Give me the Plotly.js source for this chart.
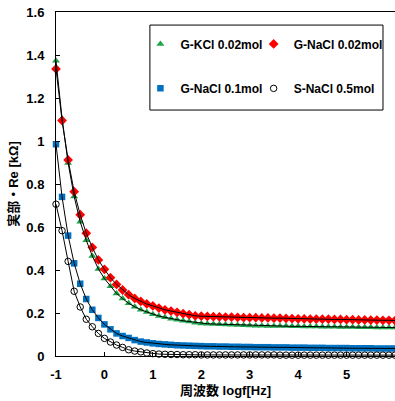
<!DOCTYPE html>
<html>
<head>
<meta charset="utf-8">
<script src="https://cdn.plot.ly/plotly-3.0.1.min.js"></script>
<style>html,body{margin:0;padding:0;background:#fff;}#chart{width:395px;height:401px;}</style>
</head>
<body>
<div id="chart"></div>
<script>
// log10 of frequency [Hz]
const logf = [-1, -0.875, -0.75, -0.625, -0.5, -0.375, -0.25, -0.125,
  0, 0.125, 0.25, 0.375, 0.5, 0.625, 0.75, 0.875,
  1, 1.125, 1.25, 1.375, 1.5, 1.625, 1.75, 1.875,
  2, 2.125, 2.25, 2.375, 2.5, 2.625, 2.75, 2.875,
  3, 3.125, 3.25, 3.375, 3.5, 3.625, 3.75, 3.875,
  4, 4.125, 4.25, 4.375, 4.5, 4.625, 4.75, 4.875,
  5, 5.125, 5.25, 5.375, 5.5, 5.625, 5.75, 5.875, 6];

const gKCl002 = [1.373, 1.105, 0.898, 0.742, 0.624, 0.538, 0.465, 0.405,
  0.360, 0.324, 0.291, 0.267, 0.245, 0.229, 0.215, 0.205,
  0.194, 0.186, 0.180, 0.173, 0.169, 0.164, 0.160, 0.155,
  0.151, 0.150, 0.149, 0.148, 0.146, 0.145, 0.144, 0.143,
  0.142, 0.141, 0.141, 0.140, 0.140, 0.139, 0.139, 0.138,
  0.138, 0.137, 0.137, 0.137, 0.136, 0.136, 0.136, 0.135,
  0.135, 0.135, 0.134, 0.134, 0.134, 0.133, 0.133, 0.133, 0.132];

const gNaCl002 = [1.335, 1.095, 0.912, 0.764, 0.657, 0.571, 0.505, 0.447,
  0.403, 0.364, 0.333, 0.307, 0.285, 0.268, 0.254, 0.242,
  0.233, 0.223, 0.215, 0.209, 0.203, 0.197, 0.192, 0.187,
  0.185, 0.184, 0.183, 0.182, 0.181, 0.181, 0.180, 0.179,
  0.178, 0.178, 0.177, 0.177, 0.176, 0.176, 0.175, 0.174,
  0.173, 0.173, 0.172, 0.172, 0.171, 0.171, 0.170, 0.170,
  0.169, 0.169, 0.168, 0.168, 0.167, 0.167, 0.166, 0.166, 0.165];

const gNaCl01 = [0.985, 0.740, 0.560, 0.431, 0.336, 0.265, 0.215, 0.177,
  0.147, 0.124, 0.105, 0.093, 0.084, 0.074, 0.067, 0.063,
  0.059, 0.056, 0.054, 0.052, 0.050, 0.049, 0.048, 0.047,
  0.046, 0.045, 0.045, 0.044, 0.044, 0.043, 0.043, 0.042,
  0.042, 0.041, 0.041, 0.041, 0.040, 0.040, 0.040, 0.039,
  0.039, 0.039, 0.038, 0.038, 0.038, 0.037, 0.037, 0.037,
  0.037, 0.036, 0.036, 0.036, 0.036, 0.035, 0.035, 0.035, 0.035];

const sNaCl05 = [0.706, 0.583, 0.440, 0.301, 0.228, 0.171, 0.136, 0.105,
  0.082, 0.065, 0.051, 0.040, 0.029, 0.023, 0.019, 0.014,
  0.011, 0.009, 0.008, 0.007, 0.007, 0.006, 0.006, 0.006,
  0.005, 0.005, 0.005, 0.005, 0.005, 0.005, 0.005, 0.005,
  0.005, 0.005, 0.005, 0.005, 0.005, 0.004, 0.004, 0.004,
  0.004, 0.004, 0.004, 0.004, 0.004, 0.004, 0.004, 0.004,
  0.004, 0.004, 0.004, 0.004, 0.004, 0.004, 0.004, 0.004, 0.004];

const seriesNames = ['G-KCl 0.02mol', 'G-NaCl 0.02mol', 'G-NaCl 0.1mol', 'S-NaCl 0.5mol'];
const xTickVals = [-1, 0, 1, 2, 3, 4, 5, 6];
const xTickText = ['-1', '0', '1', '2', '3', '4', '5', '6'];
const yTickVals = [0, 0.2, 0.4, 0.6, 0.8, 1, 1.2, 1.4, 1.6];
const yTickText = ['0', '0.2', '0.4', '0.6', '0.8', '1', '1.2', '1.4', '1.6'];

const FONT = 'Liberation Sans, Noto Sans CJK JP, sans-serif';
const BLACK = '#000000';
const allY = [gKCl002, gNaCl002, gNaCl01, sNaCl05];
const markers = [
  {symbol: 'triangle-up', size: 7, color: '#1FA34A', line: {width: 0}},
  {symbol: 'diamond', size: 7.5, color: '#FF0000', line: {width: 0}},
  {symbol: 'square', size: 6.5, color: '#0070C0', line: {width: 0}},
  {symbol: 'circle-open', size: 6.5, color: BLACK, line: {width: 1}}
];
const legendIds = ['legend', 'legend2', 'legend3', 'legend4'];

const data = [];
for (let i = 0; i < 4; i++) {
  data.push({
    x: logf, y: allY[i], name: seriesNames[i], type: 'scatter', mode: 'markers',
    marker: markers[i], cliponaxis: false, legend: legendIds[i], showlegend: true
  });
}
for (let i = 0; i < 4; i++) {
  data.push({
    x: logf, y: allY[i], type: 'scatter', mode: 'lines',
    line: {color: BLACK, width: 1}, showlegend: false, hoverinfo: 'skip'
  });
}

function legendAt(x, y) {
  return {
    orientation: 'h', x: x, xanchor: 'left', y: y, yanchor: 'middle',
    bgcolor: 'rgba(0,0,0,0)', borderwidth: 0,
    font: {family: FONT, size: 12, weight: 'bold', color: BLACK}
  };
}

const layout = {
  width: 395, height: 401,
  margin: {l: 56, r: 0, t: 12, b: 45},
  paper_bgcolor: '#ffffff', plot_bgcolor: '#ffffff',
  font: {family: FONT, size: 12, color: BLACK, weight: 'bold'},
  showlegend: true,
  xaxis: {
    range: [-1, 6], tickvals: xTickVals, ticktext: xTickText,
    ticks: 'inside', ticklen: 4, tickcolor: BLACK, showgrid: false, zeroline: false,
    showline: true, linecolor: BLACK, linewidth: 1, mirror: true,
    tickfont: {family: FONT, size: 13, weight: 'bold', color: BLACK},
    ticklabelstandoff: 6,
    title: {text: '周波数 logf[Hz]', font: {family: FONT, size: 13, weight: 'bold', color: BLACK}, standoff: 5},
    automargin: 'bottom'
  },
  yaxis: {
    range: [0, 1.6], tickvals: yTickVals, ticktext: yTickText,
    ticks: 'inside', ticklen: 4, tickcolor: BLACK, showgrid: false, zeroline: false,
    showline: true, linecolor: BLACK, linewidth: 1,
    tickfont: {family: FONT, size: 13, weight: 'bold', color: BLACK},
    ticklabelstandoff: 8,
    title: {text: '実部・Re [kΩ]', font: {family: FONT, size: 13, weight: 'bold', color: BLACK}, standoff: 4},
    automargin: 'left'
  },
  legend: legendAt(0.249, 0.907),
  legend2: legendAt(0.583, 0.907),
  legend3: legendAt(0.249, 0.778),
  legend4: legendAt(0.583, 0.778),
  shapes: [{
    type: 'rect', xref: 'paper', yref: 'paper',
    x0: 0.277, x1: 0.9646, y0: 0.715, y1: 0.962,
    line: {color: BLACK, width: 1}, fillcolor: 'rgba(0,0,0,0)'
  }]
};

Plotly.newPlot('chart', data, layout, {staticPlot: true, displayModeBar: false});
</script>
</body>
</html>
